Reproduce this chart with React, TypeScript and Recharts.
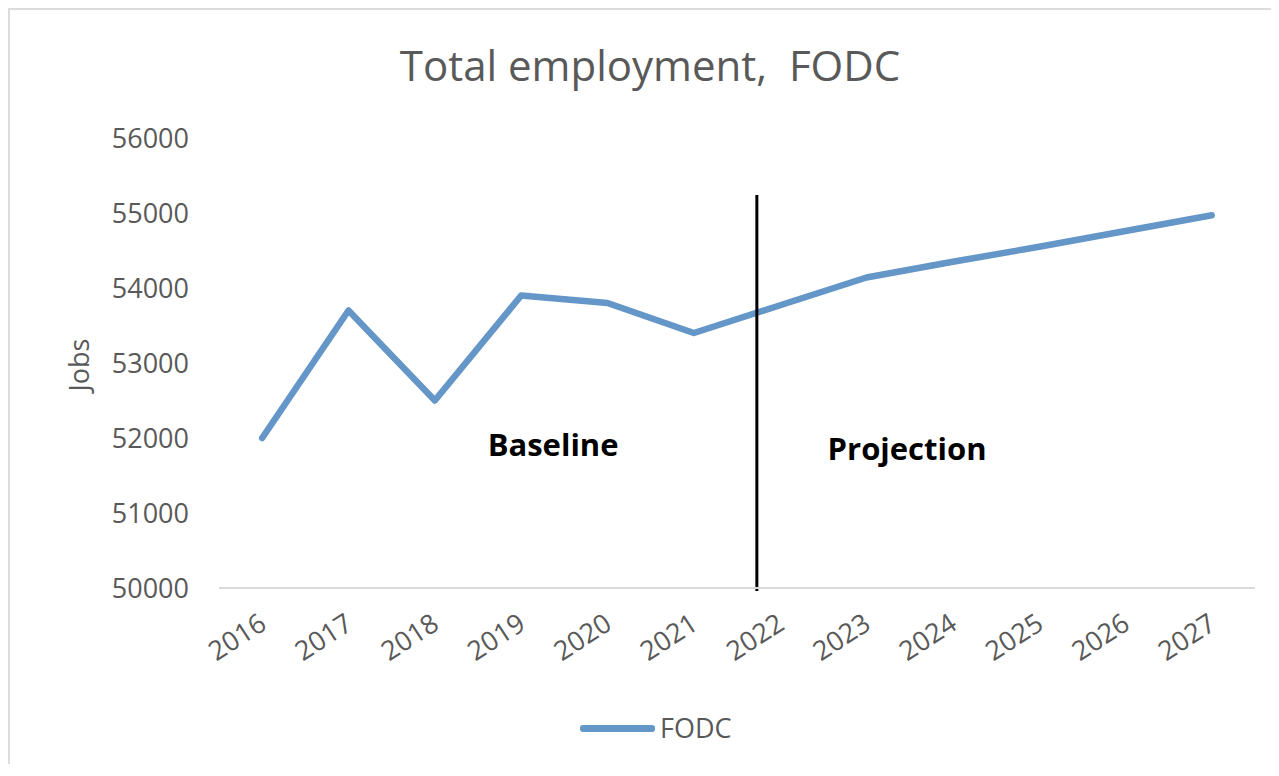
import { LineChart, Line, XAxis, YAxis, Legend, ReferenceLine, ReferenceDot } from "recharts";

const years = [2016, 2017, 2018, 2019, 2020, 2021, 2022, 2023, 2024, 2025, 2026, 2027];
const jobs = [52000, 53700, 52500, 53900, 53800, 53400, 53770, 54140, 54350, 54550, 54760, 54970];
const yTicks = [50000, 51000, 52000, 53000, 54000, 55000, 56000];

const seriesName = "FODC";
const title = "Total employment,  FODC";
const yLabel = "Jobs";

// split between baseline and projection, plus the two region labels
const splitYear = 2021.73;
const splitBottom = 49960;
const splitTop = 55240;
const regionLabels = [
  { text: "Baseline", x: 2019.37, y: 51907 },
  { text: "Projection", x: 2023.47, y: 51853 },
];

const data = years.map((year, i) => ({ year, value: jobs[i] }));

const grey = "#595959";
const blue = "#6496c8";
const font = "'Open Sans', sans-serif";

const YearTick = (props: any) => {
  const { x, y, payload } = props;
  const tx = x + 6;
  const ty = y + 40;
  return (
    <text
      x={tx}
      y={ty}
      textAnchor="end"
      fill={grey}
      fontSize={27}
      fontFamily={font}
      transform={`rotate(-33, ${tx}, ${ty})`}
    >
      {payload.value}
    </text>
  );
};

const JobsLabel = () => (
  <text
    x={68}
    y={355}
    textAnchor="middle"
    dominantBaseline="central"
    fill={grey}
    fontSize={27}
    fontFamily={font}
    transform="rotate(-90, 68, 355)"
  >
    {yLabel}
  </text>
);

const LegendContent = () => (
  <div style={{ display: "flex", alignItems: "center", fontFamily: font }}>
    <div style={{ width: 75, height: 7, background: blue, borderRadius: 3 }} />
    <span style={{ marginLeft: 5, fontSize: 27, color: grey, lineHeight: "40px" }}>{seriesName}</span>
  </div>
);

export default function App() {
  return (
    <div
      style={{
        position: "relative",
        width: 1267,
        height: 754,
        borderTop: "2px solid #dcdcdc",
        borderLeft: "2px solid #dcdcdc",
        background: "#fff",
      }}
    >
      <div
        style={{
          position: "absolute",
          top: 34,
          left: 0,
          width: 1280,
          textAlign: "center",
          fontFamily: font,
          fontSize: 42,
          lineHeight: 1,
          color: grey,
          whiteSpace: "pre",
        }}
      >
        {title}
      </div>
      <LineChart
        width={1267}
        height={754}
        data={data}
        margin={{ top: 128, right: 22, left: 0, bottom: 116 }}
      >
        <XAxis
          dataKey="year"
          type="number"
          domain={[2015.5, 2027.5]}
          ticks={years}
          interval={0}
          tick={<YearTick />}
          tickLine={false}
          tickSize={0}
          tickMargin={0}
          height={60}
          axisLine={{ stroke: "#d9d9d9", strokeWidth: 2 }}
        />
        <YAxis
          domain={[50000, 56000]}
          ticks={yTicks}
          width={209}
          axisLine={false}
          tickLine={false}
          tickSize={0}
          tickMargin={30}
          tick={{ fill: grey, fontSize: 27, fontFamily: font }}
          label={{ content: () => <JobsLabel /> }}
        />
        <Legend
          verticalAlign="middle"
          layout="horizontal"
          content={() => <LegendContent />}
          wrapperStyle={{ position: "absolute", top: 698, left: 570, width: 200, height: 40 }}
        />
        <Line
          type="linear"
          dataKey="value"
          name={seriesName}
          stroke={blue}
          strokeWidth={6.5}
          strokeLinejoin="round"
          strokeLinecap="round"
          dot={false}
          activeDot={false}
          isAnimationActive={false}
        />
        <ReferenceLine
          segment={[
            { x: splitYear, y: splitBottom },
            { x: splitYear, y: splitTop },
          ]}
          stroke="#000"
          strokeWidth={3}
          ifOverflow="visible"
        />
        {regionLabels.map((l) => (
          <ReferenceDot
            key={l.text}
            x={l.x}
            y={l.y}
            r={1}
            fill="none"
            stroke="none"
            label={{
              value: l.text,
              position: "center",
              fill: "#000",
              fontSize: 31,
              fontWeight: 700,
              fontFamily: font,
            }}
          />
        ))}
      </LineChart>
    </div>
  );
}
